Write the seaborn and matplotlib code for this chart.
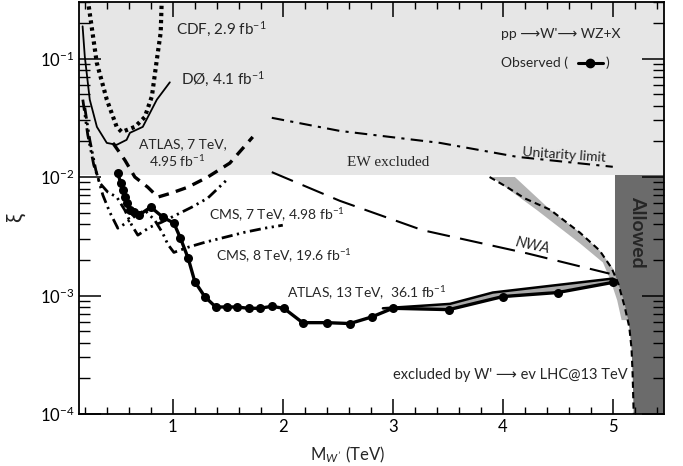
import numpy as np
import pandas as pd
import matplotlib
matplotlib.use("Agg")
import matplotlib.pyplot as plt
import seaborn as sns

# ---------------- data ----------------
cdf_x = [0.227, 0.309, 0.40, 0.49, 0.536, 0.655, 0.745, 0.81, 0.855, 0.89, 0.90]
cdf_y = [0.316, 0.092, 0.045, 0.0265, 0.024, 0.0265, 0.032, 0.048, 0.098, 0.166, 0.32]

d0_x = [0.18, 0.20, 0.245, 0.31, 0.40, 0.49, 0.58, 0.61, 0.727, 0.855, 0.973]
d0_y = [0.187, 0.104, 0.045, 0.0265, 0.0194, 0.0187, 0.0206, 0.0236, 0.0265, 0.045, 0.063]

atlas7_x = [0.455, 0.564, 0.655, 0.773, 0.864, 0.982, 1.136, 1.318, 1.518, 1.727]
atlas7_y = [0.0194, 0.0139, 0.010, 0.0082, 0.00677, 0.0073, 0.0082, 0.010, 0.0131, 0.0218]

cms7_x = [0.182, 0.227, 0.282, 0.336, 0.409, 0.491, 0.564, 0.627, 0.682, 0.791, 0.90,
          1.045, 1.173, 1.318, 1.49]
cms7_y = [0.045, 0.0227, 0.0126, 0.0089, 0.00746, 0.00677, 0.00525, 0.00392, 0.00323,
          0.00377, 0.00416, 0.00486, 0.00557, 0.00664, 0.00944]

cms8_x = [0.20, 0.245, 0.30, 0.364, 0.427, 0.50, 0.573, 0.655, 0.745, 0.836, 0.909, 0.955,
          1.01, 1.136, 1.29, 1.473, 1.655, 1.836, 2.0]
cms8_y = [0.0385, 0.0206, 0.01146, 0.00704, 0.00505, 0.0037, 0.00408, 0.00467, 0.00525,
          0.00432, 0.00335, 0.0027, 0.00231, 0.00255, 0.00281, 0.0031, 0.00342, 0.0037, 0.00392]

atlas13_x = [0.50, 0.527, 0.545, 0.564, 0.582, 0.61, 0.645, 0.69, 0.80, 0.91, 1.01, 1.07,
             1.14, 1.20, 1.29, 1.39, 1.49, 1.58, 1.69, 1.79, 1.90, 2.01, 2.18, 2.40, 2.61,
             2.81, 3.00, 3.51, 4.00, 4.50, 5.00]
atlas13_y = [0.0108, 0.0089, 0.0078, 0.0068, 0.0060, 0.0053, 0.00505, 0.00476, 0.00557,
             0.00458, 0.00408, 0.00304, 0.00206, 0.00131, 0.00098, 0.00080, 0.00080,
             0.00080, 0.00078, 0.00078, 0.00081, 0.00078, 0.00059, 0.00059, 0.00058,
             0.00066, 0.00078, 0.00076, 0.00098, 0.00106, 0.00129]

band13_x = [2.91, 3.27, 3.52, 3.91, 5.00]
band13_upper = [0.00078, 0.00082, 0.00085, 0.00106, 0.00139]
band13_lower = [0.00076, 0.00077, 0.00076, 0.00093, 0.00129]

unit_x = [1.90, 2.518, 3.43, 4.13, 5.00]
unit_y = [0.0316, 0.0245, 0.0194, 0.0148, 0.0122]

nwa_x = [1.90, 2.518, 3.27, 4.22, 4.97]
nwa_y = [0.011, 0.0063, 0.00356, 0.00227, 0.00153]

wev_x = [3.88, 4.04, 4.20, 4.43, 4.70, 4.88, 4.99, 5.05, 5.11, 5.15, 5.17, 5.18, 5.19]
wev_y = [0.010, 0.0082, 0.0066, 0.0053, 0.0034, 0.0024, 0.0017, 0.00126, 0.00079,
         0.00054, 0.00036, 0.00022, 0.0001]

wevband_left_x = [3.90, 4.31, 4.70, 4.91, 4.98, 5.04, 5.08]
wevband_left_y = [0.010, 0.00526, 0.00276, 0.0019, 0.00134, 0.00091, 0.00062]
wevband_right_x = [5.14, 5.10, 5.05, 5.00, 4.88, 4.70, 4.43, 4.11]
wevband_right_y = [0.00062, 0.00091, 0.00126, 0.0017, 0.0024, 0.0034, 0.0053, 0.010]

ew_limit = 0.0104
allowed_x0 = 5.02
xlim = (0.15, 5.47)
ylim = (1e-4, 0.3)

# ---------------- figure ----------------
sns.set_theme(style="ticks")
plt.rcParams['font.family'] = ['Lato', 'DejaVu Sans']
plt.rcParams['mathtext.fontset'] = 'custom'
plt.rcParams['mathtext.rm'] = 'Lato'
plt.rcParams['mathtext.it'] = 'Lato:italic'

fig = plt.figure(figsize=(6.83, 4.66), dpi=100)
ax = fig.add_axes([0.1161, 0.1116, 0.8568, 0.8841])
ax.set_yscale('log')
ax.set_xlim(*xlim)
ax.set_ylim(*ylim)

# shaded regions
ax.fill_between([xlim[0], xlim[1]], [ew_limit, ew_limit], [ylim[1], ylim[1]],
                color='#e6e6e6', lw=0, zorder=0)
wev_low = [(x, y) for x, y in zip(wev_x, wev_y) if y < 0.00126]
allowed_poly_x = [allowed_x0, allowed_x0] + [p[0] for p in wev_low] + [xlim[1], xlim[1]]
allowed_poly_y = [ew_limit, 0.00126] + [p[1] for p in wev_low] + [ylim[0], ew_limit]
ax.fill(allowed_poly_x, allowed_poly_y, color='#6b6b6b', lw=0, zorder=1)
ax.fill(wevband_left_x + wevband_right_x, wevband_left_y + wevband_right_y,
        color='#b4b4b4', lw=0, zorder=2)
ax.fill_between(band13_x, band13_lower, band13_upper, color='#a8a8a8', lw=0, zorder=3)

def line(x, y, **kw):
    df = pd.DataFrame({'x': x, 'y': y})
    sns.lineplot(data=df, x='x', y='y', sort=False, estimator=None, ax=ax,
                 color='black', **kw)

line(cdf_x, cdf_y, lw=3.0, linestyle=(0, (0.8, 0.9)), zorder=4)
line(d0_x, d0_y, lw=1.3, zorder=4)
line(atlas7_x, atlas7_y, lw=2.4, linestyle=(0, (3.2, 2.2)), zorder=4)
line(cms7_x, cms7_y, lw=2.0, linestyle=(0, (4, 1.6, 0.8, 1.6, 0.8, 1.6)), zorder=4)
line(cms8_x, cms8_y, lw=2.0, linestyle=(0, (4, 1.6, 0.8, 1.6, 0.8, 1.6)), zorder=4)
line(unit_x, unit_y, lw=1.5, linestyle=(0, (6, 3, 1.5, 3)), zorder=4)
line(nwa_x, nwa_y, lw=1.5, linestyle=(0, (11, 5)), zorder=4)
line(wev_x, wev_y, lw=1.5, linestyle=(0, (3, 2)), zorder=5)
line(band13_x, band13_upper, lw=1.8, zorder=5)
line(atlas13_x, atlas13_y, lw=2.4, marker='o', markersize=6.5, markeredgewidth=0,
     zorder=6)

# annotations
fs = 10
ax.text(1.027, 0.16, "CDF, 2.9 fb$^{-1}$", fontsize=11)
ax.text(1.073, 0.0603, "DØ, 4.1 fb$^{-1}$", fontsize=11)
ax.text(0.69, 0.0176, "ATLAS, 7 TeV,", fontsize=fs)
ax.text(0.78, 0.01216, "4.95 fb$^{-1}$", fontsize=fs)
ax.text(2.58, 0.0124, "EW excluded", fontsize=11, family='Liberation Serif')
ax.text(4.56, 0.0154, "Unitarity limit", fontsize=fs, ha='center', va='center',
        rotation=-4)
ax.text(3.98, 0.148, "pp ⟶W'⟶ WZ+X", fontsize=10, family=['Lato', 'DejaVu Sans'])
ax.text(3.98, 0.0855, "Observed (", fontsize=10)
ax.text(4.93, 0.0855, ")", fontsize=10)
ax.plot([4.68, 4.91], [0.0925, 0.0925], color='black', lw=2.2)
ax.plot([4.795], [0.0925], 'o', color='black', markersize=6)
ax.text(1.327, 0.00433, "CMS, 7 TeV, 4.98 fb$^{-1}$", fontsize=fs)
ax.text(1.39, 0.00194, "CMS, 8 TeV, 19.6 fb$^{-1}$", fontsize=fs)
ax.text(2.036, 0.000944, "ATLAS, 13 TeV,  36.1 fb$^{-1}$", fontsize=fs)
ax.text(4.27, 0.00262, "NWA", fontsize=11, style='italic', ha='center', va='center',
        rotation=-12)
ax.text(3.0, 0.000198, "excluded by W' ⟶ ev LHC@13 TeV", fontsize=10.5,
        family=['Lato', 'DejaVu Sans'])
ax.text(5.223, 0.00342, "Allowed", fontsize=14, fontweight='bold', rotation=270,
        ha='center', va='center')

# axes styling
ax.set_xlabel("M$_{W'}$ (TeV)", fontsize=12)
ax.xaxis.set_label_coords(0.459, -0.075)
ax.set_ylabel("ξ", fontsize=16)
ax.yaxis.set_label_coords(-0.092, 0.476)
ax.set_xticks([1, 2, 3, 4, 5])
ax.set_xticks(np.arange(0.2, 5.41, 0.2), minor=True)
ax.tick_params(axis='both', which='both', direction='in', top=True, right=True,
               labelsize=12, colors='black')
ax.tick_params(axis='x', which='major', length=11, width=1.1)
ax.tick_params(axis='x', which='minor', length=5, width=1.0)
ax.tick_params(axis='y', which='major', length=16, width=1.1)
ax.tick_params(axis='y', which='minor', length=8, width=1.0)
for s in ax.spines.values():
    s.set_color('black')
    s.set_linewidth(1.3)
    s.set_zorder(10)
ax.set_axisbelow(False)

fig.savefig("out.png", dpi=100)
